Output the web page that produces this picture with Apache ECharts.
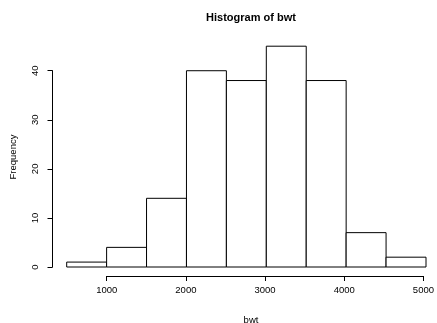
<!DOCTYPE html>
<html>
<head>
<meta charset="utf-8">
<script src="https://cdn.jsdelivr.net/npm/echarts@6/dist/echarts.min.js"></script>
<style>
    html, body { margin: 0; padding: 0; background: #fff; }
    #main { width: 437px; height: 323px; }
</style>
</head>
<body>
<div id="main"></div>
<script>
// histogram bins (lower / upper edges) and counts
var binLo = [500, 1000, 1500, 2000, 2500, 3000, 3500, 4000, 4500];
var binHi = [1000, 1500, 2000, 2500, 3000, 3500, 4000, 4500, 5000];
var counts = [1, 4, 14, 40, 38, 45, 38, 7, 2];
var xTicks = [1000, 2000, 3000, 4000, 5000];
var yTicks = [0, 10, 20, 30, 40];

var chart = echarts.init(document.getElementById('main'));

var histData = counts.map(function (c, i) {
    return [binLo[i], binHi[i], c];
});

var labelFont = 'Liberation Sans, Arial, sans-serif';

var option = {
    animation: false,
    backgroundColor: '#fff',
    title: [{
        text: 'Histogram of bwt',
        left: 246,
        top: 7,
        textAlign: 'center',
        textStyle: { fontSize: 11, fontWeight: 'bold', color: '#000', fontFamily: labelFont }
    }, {
        text: 'bwt',
        left: 246,
        top: 310,
        textAlign: 'center',
        textStyle: { fontSize: 9.5, fontWeight: 'normal', color: '#000', fontFamily: labelFont }
    }],
    graphic: [{
        type: 'text',
        x: 13,
        y: 157,
        rotation: Math.PI / 2,
        style: {
            text: 'Frequency',
            align: 'center',
            verticalAlign: 'middle',
            fontSize: 9.5,
            fontFamily: labelFont,
            fill: '#000'
        }
    }],
    grid: [
        // bars
        { left: 66.7, right: 11, top: 46.2, bottom: 56 },
        // x axis (1000..5000 only)
        { left: 106.7, right: 11, top: 200, bottom: 47 },
        // y axis (0..40 only)
        { left: 52.5, width: 10, top: 70.7, bottom: 56 }
    ],
    xAxis: [{
        gridIndex: 0, type: 'value', min: 500, max: 5000, show: false
    }, {
        gridIndex: 1, type: 'value', min: 1000, max: 5000, interval: 1000,
        axisLine: { show: true, lineStyle: { color: '#000', width: 1 } },
        axisTick: { show: true, inside: false, length: 5, lineStyle: { color: '#000' } },
        axisLabel: {
            margin: 9, color: '#000', fontSize: 9.5, fontFamily: labelFont,
            customValues: xTicks,
            formatter: function (v) { return String(v); }
        },
        splitLine: { show: false }
    }, {
        gridIndex: 2, type: 'value', show: false
    }],
    yAxis: [{
        gridIndex: 0, type: 'value', min: 0, max: 45, show: false
    }, {
        gridIndex: 1, type: 'value', show: false
    }, {
        gridIndex: 2, type: 'value', min: 0, max: 40, interval: 10,
        axisLine: { show: true, lineStyle: { color: '#000', width: 1 } },
        axisTick: { show: true, inside: false, length: 5, lineStyle: { color: '#000' } },
        axisLabel: {
            rotate: 90, margin: 12, color: '#000', fontSize: 9.5, fontFamily: labelFont,
            customValues: yTicks,
            formatter: function (v) { return String(v); }
        },
        splitLine: { show: false }
    }],
    series: [{
        type: 'custom',
        xAxisIndex: 0,
        yAxisIndex: 0,
        renderItem: function (params, api) {
            var p0 = api.coord([api.value(0), api.value(2)]);
            var p1 = api.coord([api.value(1), 0]);
            return {
                type: 'rect',
                shape: { x: p0[0], y: p0[1], width: p1[0] - p0[0], height: p1[1] - p0[1] },
                style: { fill: '#fff', stroke: '#000', lineWidth: 1 }
            };
        },
        encode: { x: [0, 1], y: 2 },
        data: histData
    }]
};

chart.setOption(option);
</script>
</body>
</html>
